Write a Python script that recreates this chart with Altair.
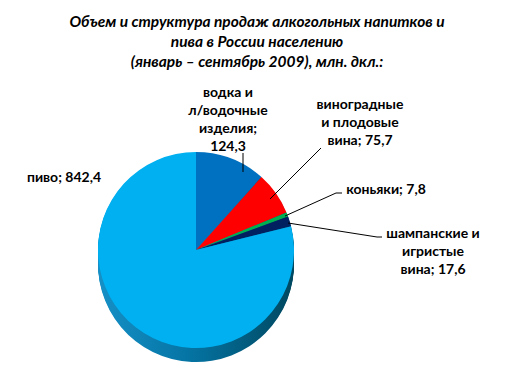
import math
import altair as alt
import pandas as pd

# ---------------- data ----------------
categories = [
    "водка и л/водочные изделия",
    "виноградные и плодовые вина",
    "коньяки",
    "шампанские и игристые вина",
    "пиво",
]
values = [124.3, 75.7, 7.8, 17.6, 842.4]
colors = ["#0070C0", "#FF0000", "#00B050", "#002060", "#00B0F0"]
label_templates = [
    "водка и\nл/водочные\nизделия;\n{v}",
    "виноградные\nи плодовые\nвина; {v}",
    "коньяки; {v}",
    "шампанские и\nигристые\nвина; {v}",
    "пиво; {v}",
]
title_lines = [
    "Объем и структура продаж алкогольных  напитков и",
    "пива в России населению",
    "(январь – сентябрь 2009), млн. дкл.:",
]

# ---------------- layout (page pixels) ----------------
M = 8
CX, CY, R, DEPTH = 196, 250, 98, 14
# position of the first line of each label
label_pos = [(228, 93), (360, 105), (386, 190), (433, 234), (64, 178)]
leaders = [
    [(243, 153), (243, 172)],
    [(321, 148), (270, 199)],
    [(342, 193), (336, 193), (285, 216)],
    [(382, 237), (377, 237), (288, 223)],
]
FONT = "Lato"


def fmt(v):
    return f"{v:.1f}".replace(".", ",")


pie_df = pd.DataFrame({
    "category": categories,
    "value": values,
    "idx": list(range(len(values))),
})

theta = alt.Theta("value:Q", stack=True, scale=alt.Scale(range=[0, 2 * math.pi]))
order = alt.Order("idx:Q")

side_fill = alt.Gradient(
    gradient="linear",
    stops=[
        alt.GradientStop(color="#1690c6", offset=0),
        alt.GradientStop(color="#0575a5", offset=0.45),
        alt.GradientStop(color="#004860", offset=1),
    ],
    x1=0, x2=1, y1=0, y2=0,
)

layers = []
for d in range(DEPTH, 0, -1):
    layers.append(
        alt.Chart(pie_df).mark_arc(radius=R, fill=side_fill, stroke=None).encode(
            theta=theta, order=order,
            x=alt.value(CX - M), y=alt.value(CY - M + d),
        )
    )

layers.append(
    alt.Chart(pie_df).mark_arc(radius=R, stroke=None).encode(
        theta=theta, order=order,
        color=alt.Color("category:N", scale=alt.Scale(domain=categories, range=colors), legend=None),
        x=alt.value(CX - M), y=alt.value(CY - M),
    )
)

# leader lines
seg_rows = []
for path in leaders:
    for (x1, y1), (x2, y2) in zip(path[:-1], path[1:]):
        seg_rows.append({"x": x1 - M, "y": y1 - M, "x2": x2 - M, "y2": y2 - M})
seg_df = pd.DataFrame(seg_rows)
layers.append(
    alt.Chart(seg_df).mark_rule(color="#000000", strokeWidth=1).encode(
        x=alt.X("x:Q", scale=None, axis=None),
        y=alt.Y("y:Q", scale=None, axis=None),
        x2="x2:Q", y2="y2:Q",
    )
)

# data labels
lab_df = pd.DataFrame({
    "label": [t.format(v=fmt(v)) for t, v in zip(label_templates, values)],
    "lx": [p[0] - M for p in label_pos],
    "ly": [p[1] - M for p in label_pos],
})
layers.append(
    alt.Chart(lab_df).mark_text(
        lineBreak="\n", lineHeight=18, font=FONT, fontSize=14, fontWeight="bold",
        align="center", baseline="middle", color="#000000",
    ).encode(
        x=alt.X("lx:Q", scale=None, axis=None),
        y=alt.Y("ly:Q", scale=None, axis=None),
        text="label:N",
    )
)

# title
title_df = pd.DataFrame({"t": ["\n".join(title_lines)], "tx": [257 - M], "ty": [22 - M]})
layers.append(
    alt.Chart(title_df).mark_text(
        lineBreak="\n", lineHeight=20, font=FONT, fontSize=15.5, fontWeight="bold",
        fontStyle="italic", align="center", baseline="middle", color="#000000",
    ).encode(
        x=alt.X("tx:Q", scale=None, axis=None),
        y=alt.Y("ty:Q", scale=None, axis=None),
        text="t:N",
    )
)

chart = alt.layer(*layers).properties(
    width=496, height=363, padding=0,
    autosize=alt.AutoSizeParams(type="none"),
    background="#ffffff",
).configure_view(stroke=None)

chart.save("out.html", embed_options={"renderer": "svg", "actions": False})
